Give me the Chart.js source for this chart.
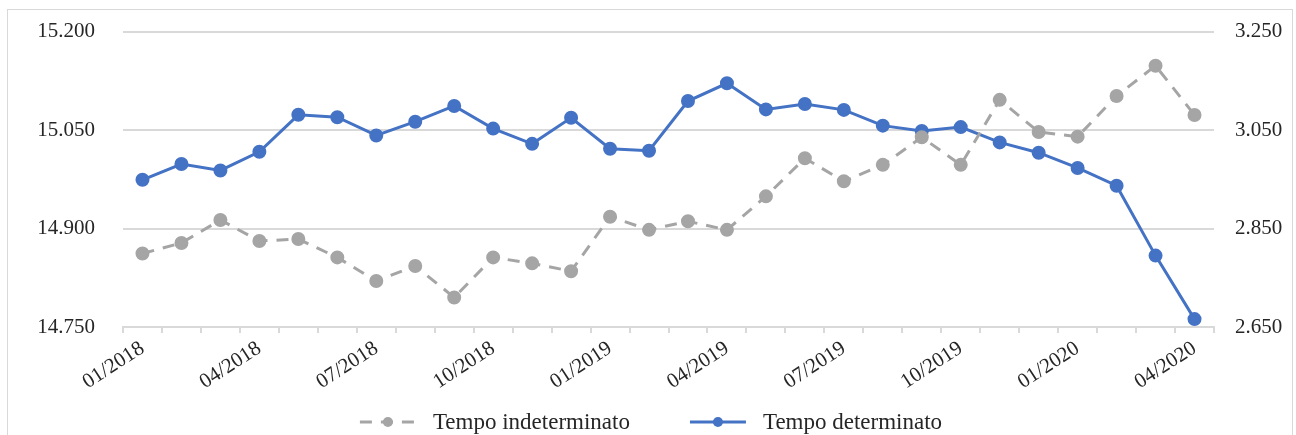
<!DOCTYPE html>
<html>
<head>
<meta charset="utf-8">
<script src="https://cdn.jsdelivr.net/npm/chart.js@4/dist/chart.umd.min.js"></script>
<style>
  html, body { margin: 0; padding: 0; background: #fff; }
  #wrap { position: relative; width: 1296px; height: 435px; overflow: hidden; }
  #frame { position: absolute; left: 7px; top: 9px; width: 1284px; height: 460px; border: 1px solid #d9d9d9; }
  #myChart { position: absolute; left: 0; top: 0; }
</style>
</head>
<body>
<div id="wrap">
  <div id="frame"></div>
  <canvas id="myChart" width="1296" height="435"></canvas>
</div>
<script>
var months = ["01/2018", "02/2018", "03/2018", "04/2018", "05/2018", "06/2018", "07/2018",
              "08/2018", "09/2018", "10/2018", "11/2018", "12/2018", "01/2019", "02/2019",
              "03/2019", "04/2019", "05/2019", "06/2019", "07/2019", "08/2019", "09/2019",
              "10/2019", "11/2019", "12/2019", "01/2020", "02/2020", "03/2020", "04/2020"];

// migliaia di contratti (asse sinistro)
var indeterminato = [14862, 14878, 14913, 14881, 14884, 14856, 14820, 14843, 14795, 14856,
                     14847, 14835, 14918, 14898, 14911, 14898, 14949, 15007, 14972, 14997,
                     15039, 14997, 15096, 15047, 15040, 15102, 15148, 15073];

// asse destro
var determinato = [2949, 2981, 2968, 3006, 3081, 3076, 3039, 3067, 3099, 3053,
                   3022, 3075, 3012, 3008, 3109, 3145, 3092, 3103, 3091, 3059,
                   3048, 3056, 3025, 3004, 2973, 2937, 2795, 2666];

var leftTicks = [14750, 14900, 15050, 15200];
var rightTicks = [2650, 2850, 3050, 3250];

var GRAY = '#A5A5A5';
var BLUE = '#4472C4';
var FONT = '"Liberation Serif", "DejaVu Serif", serif';

function itNum(v) {
    var s = String(Math.round(v));
    return s.slice(0, s.length - 3) + '.' + s.slice(-3);
}

// legenda disegnata a mano: linea + pallino come in Excel
var legendPlugin = {
    id: 'excelLegend',
    afterDraw: function (chart) {
        var ctx = chart.ctx;
        var y = 422;
        var items = chart.data.datasets;
        var sample = 56, textGap = 17, gap = 60;
        ctx.save();
        ctx.font = '23px ' + FONT;
        var widths = items.map(function (d) { return sample + textGap + ctx.measureText(d.label).width; });
        var total = widths[0] + widths[1] + gap;
        var x = 651 - total / 2;
        items.forEach(function (d, i) {
            ctx.strokeStyle = d.borderColor;
            ctx.lineWidth = 3;
            ctx.setLineDash(d.borderDash || []);
            ctx.beginPath();
            ctx.moveTo(x, y);
            ctx.lineTo(x + sample, y);
            ctx.stroke();
            ctx.setLineDash([]);
            ctx.fillStyle = d.pointBackgroundColor;
            ctx.beginPath();
            ctx.arc(x + sample / 2, y, 5, 0, Math.PI * 2);
            ctx.fill();
            ctx.fillStyle = '#262626';
            ctx.textBaseline = 'middle';
            ctx.fillText(d.label, x + sample + textGap, y + 1);
            x += widths[i] + gap;
        });
        ctx.restore();
    }
};

var ctx = document.getElementById('myChart').getContext('2d');
var chart = new Chart(ctx, {
    type: 'line',
    data: {
        labels: months,
        datasets: [{
            label: 'Tempo indeterminato',
            data: indeterminato,
            yAxisID: 'y',
            borderColor: GRAY,
            backgroundColor: GRAY,
            pointBackgroundColor: GRAY,
            pointBorderColor: GRAY,
            borderWidth: 3,
            borderDash: [12, 9],
            pointRadius: 5.5,
            lineTension: 0,
            fill: false
        },
        {
            label: 'Tempo determinato',
            data: determinato,
            yAxisID: 'y1',
            borderColor: BLUE,
            backgroundColor: BLUE,
            pointBackgroundColor: BLUE,
            pointBorderColor: BLUE,
            borderWidth: 3,
            pointRadius: 5.5,
            lineTension: 0,
            fill: false
        }]
    },
    options: {
        responsive: false,
        animation: false,
        layout: { padding: { top: 0, left: 0, right: 0, bottom: 0 } },
        plugins: {
            legend: { display: false },
            tooltip: { enabled: false }
        },
        scales: {
            x: {
                offset: true,
                grid: {
                    offset: true,
                    drawOnChartArea: false,
                    color: '#d9d9d9',
                    lineWidth: 2,
                    tickLength: 6
                },
                border: { color: '#d9d9d9', width: 2 },
                ticks: {
                    autoSkip: false,
                    minRotation: 33,
                    maxRotation: 33,
                    padding: 3,
                    color: '#262626',
                    font: { family: FONT, size: 21 },
                    callback: function (v, i) { return i % 3 === 0 ? months[i] : ''; }
                },
                afterFit: function (s) { s.height = 108; }
            },
            y: {
                position: 'left',
                min: leftTicks[0],
                max: leftTicks[leftTicks.length - 1],
                afterBuildTicks: function (s) { s.ticks = leftTicks.map(function (v) { return { value: v }; }); },
                grid: { color: '#d9d9d9', lineWidth: 2, drawTicks: true, tickLength: 9, tickColor: 'rgba(0,0,0,0)' },
                border: { display: false },
                ticks: {
                    padding: 19,
                    color: '#262626',
                    font: { family: FONT, size: 21 },
                    callback: function (v) { return itNum(v); }
                },
                afterFit: function (s) { s.width = 123; }
            },
            y1: {
                position: 'right',
                min: rightTicks[0],
                max: rightTicks[rightTicks.length - 1],
                afterBuildTicks: function (s) { s.ticks = rightTicks.map(function (v) { return { value: v }; }); },
                grid: { drawOnChartArea: false, drawTicks: true, tickLength: 9, tickColor: 'rgba(0,0,0,0)' },
                border: { display: false },
                ticks: {
                    padding: 12,
                    color: '#262626',
                    font: { family: FONT, size: 21 },
                    callback: function (v) { return itNum(v); }
                },
                afterFit: function (s) { s.width = 82; }
            }
        }
    },
    plugins: [legendPlugin]
});
</script>
</body>
</html>
